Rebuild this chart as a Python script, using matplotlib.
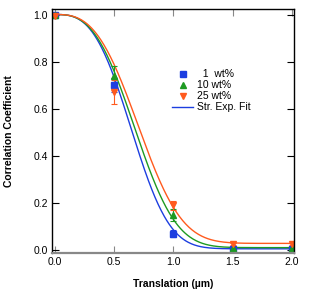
import numpy as np
from matplotlib import pyplot as plt
from matplotlib.lines import Line2D

plt.rcParams['font.family'] = ['Liberation Sans', 'DejaVu Sans']

# measured points
x = [0.0, 0.5, 1.0, 1.5, 2.0]
y_1wt = [1.0, 0.70, 0.07, 0.005, 0.005]
y_10wt = [1.0, 0.74, 0.15, 0.01, 0.01]
y_25wt = [0.995, 0.67, 0.19, 0.025, 0.025]
err_1wt = [0.0, 0.03, 0.015, 0.003, 0.003]
err_10wt = [0.0, 0.04, 0.025, 0.003, 0.003]
err_25wt = [0.0, 0.05, 0.02, 0.003, 0.003]

# stretched exponential fit parameters: y0, tau, beta
fit_1wt = [0.005, 0.735, 3.0]
fit_10wt = [0.01, 0.773, 2.91]
fit_25wt = [0.028, 0.808, 2.9]

blue = '#1c3ee0'
green = '#1e9a22'
orange = '#ff5a1e'

def str_exp(t, p):
    y0, tau, beta = p
    return y0 + (1 - y0) * np.exp(-(t / tau) ** beta)

fig = plt.figure(figsize=(3.16, 2.92), dpi=100)
ax = fig.add_axes([0.165, 0.135, 0.765, 0.833])

xf = np.linspace(0, 2, 300)
ax.plot(xf, str_exp(xf, fit_1wt), color=blue, lw=1)
ax.plot(xf, str_exp(xf, fit_10wt), color=green, lw=1)
ax.plot(xf, str_exp(xf, fit_25wt), color=orange, lw=1)

ax.errorbar(x, y_1wt, yerr=err_1wt, fmt='s', color=blue, ms=4.5, capsize=2.5, elinewidth=0.8, capthick=0.8)
ax.errorbar(x, y_10wt, yerr=err_10wt, fmt='^', color=green, ms=5, capsize=2.5, elinewidth=0.8, capthick=0.8)
ax.errorbar(x, y_25wt, yerr=err_25wt, fmt='v', color=orange, ms=5, capsize=2.5, elinewidth=0.8, capthick=0.8)

ax.set_xlim(-0.025, 2.017)
ax.set_ylim(-0.011, 1.022)
ax.set_xticks([0.0, 0.5, 1.0, 1.5, 2.0])
ax.set_yticks([0.0, 0.2, 0.4, 0.6, 0.8, 1.0])
ax.xaxis.set_major_formatter(plt.FormatStrFormatter('%.1f'))
ax.yaxis.set_major_formatter(plt.FormatStrFormatter('%.1f'))
ax.tick_params(direction='in', top=True, right=True, labelsize=7.5, length=5, width=0.8, pad=3)
ax.tick_params(axis='x', colors='#888888', labelcolor='black')
for s in ['left', 'top', 'right']:
    ax.spines[s].set_linewidth(1.0)
ax.spines['bottom'].set_color('#888888')
ax.spines['bottom'].set_linewidth(1.6)

ax.set_xlabel('Translation (µm)', fontsize=7.5, fontweight='bold', labelpad=9)
ax.set_ylabel('Correlation Coefficient', fontsize=7.5, fontweight='bold', labelpad=14)

handles = [
    Line2D([], [], ls='none', marker='s', color=blue, ms=4.5),
    Line2D([], [], ls='none', marker='^', color=green, ms=5),
    Line2D([], [], ls='none', marker='v', color=orange, ms=5),
    Line2D([], [], color=blue, lw=1),
]
labels = ['  1  wt%', '10 wt%', '25 wt%', 'Str. Exp. Fit']
ax.legend(handles, labels, loc='upper left', bbox_to_anchor=(0.475, 0.775),
          frameon=False, fontsize=7.5, handlelength=2.0, handletextpad=0.4, labelspacing=0.1, borderpad=0)

plt.savefig('out.png', dpi=100)
